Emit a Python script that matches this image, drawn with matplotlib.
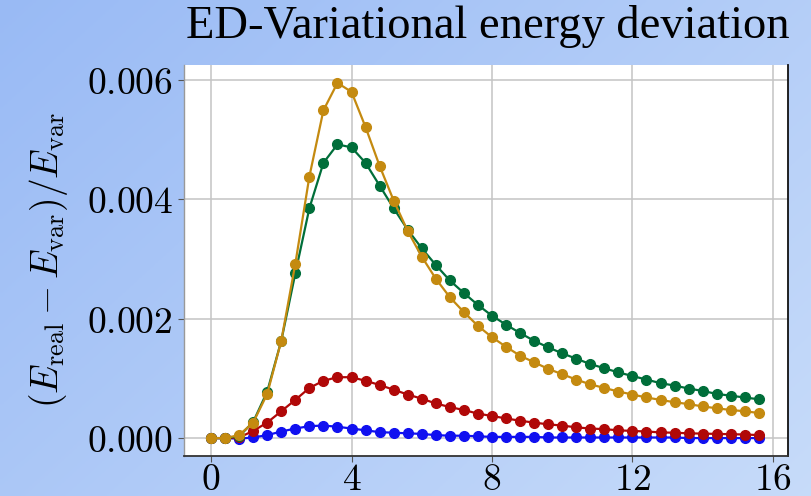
import numpy as np
import matplotlib
matplotlib.use("Agg")
import matplotlib.pyplot as plt
from matplotlib.ticker import FuncFormatter

plt.rcParams['mathtext.fontset'] = 'cm'

x = [round(0.4 * i, 1) for i in range(40)]

blue = [0, 0, -0.00001, 0.00001, 0.00005, 0.00011, 0.00016, 0.00020, 0.00021, 0.00019,
        0.00016, 0.00013, 0.00010, 0.00009, 0.00008, 0.00007, 0.00005, 0.00004, 0.00004, 0.00003,
        0.00002, 0.00002, 0.00002, 0.00002, 0.00001, 0.00001, 0.00001, 0.00001, 0.00001, 0.00001,
        0.00001, 0.00001, 0.00001, 0.00001, 0.00000, 0.00000, 0.00000, 0.00000, 0.00000, 0.00000]
red = [0, 0, 0.00001, 0.00012, 0.00026, 0.00045, 0.00064, 0.00084, 0.00096, 0.00102,
       0.00102, 0.00096, 0.00089, 0.00081, 0.00073, 0.00066, 0.00058, 0.00052, 0.00047, 0.00041,
       0.00037, 0.00033, 0.00029, 0.00026, 0.00023, 0.00021, 0.00018, 0.00016, 0.00015, 0.00013,
       0.00012, 0.00011, 0.000095, 0.00009, 0.00008, 0.000075, 0.00007, 0.000065, 0.00006, 0.00005]
green = [0, 0, 0.00003, 0.00027, 0.00078, 0.00163, 0.00276, 0.00385, 0.00461, 0.00492,
         0.00487, 0.00461, 0.00423, 0.00385, 0.00349, 0.00318, 0.00290, 0.00264, 0.00243, 0.00223,
         0.00205, 0.00190, 0.00176, 0.00163, 0.00152, 0.00142, 0.00133, 0.00124, 0.00117, 0.00110,
         0.00104, 0.00098, 0.00092, 0.00088, 0.00083, 0.00079, 0.00074, 0.00071, 0.00068, 0.00065]
gold = [0, 0, 0.00005, 0.00026, 0.00074, 0.00163, 0.00292, 0.00438, 0.00549, 0.00595,
        0.00580, 0.00521, 0.00456, 0.00398, 0.00347, 0.00304, 0.00267, 0.00236, 0.00211, 0.00188,
        0.00169, 0.00153, 0.00138, 0.00127, 0.00116, 0.00107, 0.00098, 0.00090, 0.00084, 0.00078,
        0.00073, 0.00068, 0.00064, 0.00060, 0.00057, 0.00053, 0.00050, 0.00047, 0.00045, 0.00042]

xticks = [0, 4, 8, 12, 16]
yticks = [0.000, 0.002, 0.004, 0.006]

fig = plt.figure(figsize=(8.12, 4.96), dpi=100)

# background gradient
bg = fig.add_axes([0, 0, 1, 1], zorder=-10)
gx, gy = np.meshgrid(np.linspace(0, 1, 200), np.linspace(0, 1, 200))
t = (gx * 0.6 + gy * 0.4)
c0 = np.array([0.60, 0.73, 0.96])
c1 = np.array([0.78, 0.86, 0.98])
img = c0[None, None, :] * (1 - t[..., None]) + c1[None, None, :] * t[..., None]
bg.imshow(img, aspect='auto', extent=[0, 1, 0, 1], origin='upper')
bg.axis('off')

ax = fig.add_axes([184 / 812, 40 / 496, (788 - 184) / 812, (456 - 65) / 496])
ax.set_facecolor('white')

series = [(blue, '#1010F0'), (red, '#B00808'), (green, '#006E3A'), (gold, '#C48A10')]
for ys, col in series:
    ax.plot(x, ys, '-o', color=col, lw=1.6, ms=7, zorder=3)

ax.set_xlim(-0.77, 16.43)
ax.set_ylim(-0.0003, 0.00625)
ax.set_xticks(xticks)
ax.set_yticks(yticks)
ax.xaxis.set_major_formatter(FuncFormatter(lambda v, p: r'$%d$' % v))
ax.yaxis.set_major_formatter(FuncFormatter(lambda v, p: r'$%.3f$' % v))
ax.tick_params(axis='both', labelsize=27, length=4, color='#555555')
ax.tick_params(axis='x', pad=0)
ax.tick_params(axis='y', pad=4)
ax.grid(True, color='#c4c4c4', lw=1.1)
ax.set_axisbelow(True)

ax.spines['top'].set_visible(False)
ax.spines['left'].set_color('#999999')
ax.spines['left'].set_linewidth(1.0)
ax.spines['bottom'].set_color('#333333')
ax.spines['bottom'].set_linewidth(1.3)
ax.spines['right'].set_color('#111111')
ax.spines['right'].set_linewidth(1.3)

ax.set_ylabel(r'$(E_{\rm real} - E_{\rm var})/E_{\rm var}$', fontsize=27, labelpad=12)

fig.text(790 / 812, 1 - 38 / 496, 'ED-Variational energy deviation', ha='right', va='baseline',
         fontsize=33.5, family=['Liberation Serif', 'DejaVu Serif'])

fig.savefig('out.png', dpi=100)
